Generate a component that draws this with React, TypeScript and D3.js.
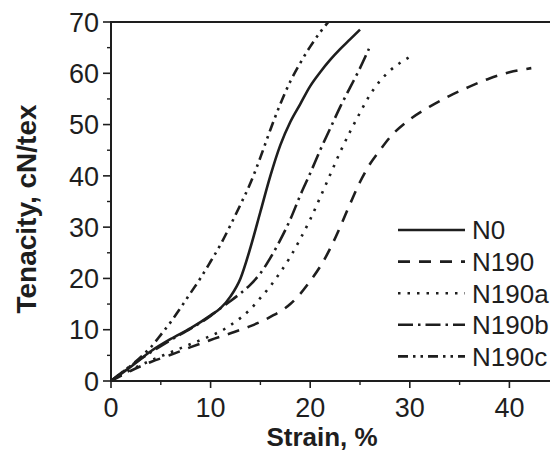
import React from "react";
import * as d3 from "d3";

const seriesNames = ["N0", "N190", "N190a", "N190b", "N190c"];

const n0: [number, number][] = [
  [0, 0], [2, 2.8], [4, 5.8], [6, 8.2], [8, 10.3], [10, 12.8], [11, 14.2], [12, 16.5],
  [13, 20], [14, 26], [15, 33], [16, 40], [17, 46], [18, 50.5], [19, 54], [20, 57.5],
  [21, 60.2], [22, 62.6], [23, 64.7], [24, 66.6], [25, 68.5],
];
const n190: [number, number][] = [
  [0, 0], [2, 2], [4, 3.7], [6, 5.1], [8, 6.6], [10, 8], [12, 9.3], [14, 10.7],
  [16, 12.5], [18, 15], [19, 17], [20, 19.5], [21, 22.3], [22, 25.8], [23, 30],
  [24, 34.5], [25, 38.8], [26, 42.3], [27, 45], [28, 47.5], [30, 51], [32, 53.5],
  [34, 55.6], [36, 57.4], [38, 59], [40, 60.2], [42.2, 61],
];
const n190a: [number, number][] = [
  [0, 0], [2, 2.2], [4, 4], [6, 5.6], [8, 7.2], [10, 8.8], [11, 9.7], [12, 10.9],
  [13, 12.3], [14, 14], [15, 16.2], [16, 18.5], [17, 21.2], [18, 24.2], [19, 27.7],
  [20, 31.5], [21, 35.8], [22, 40.2], [23, 44.6], [24, 48.6], [25, 52.3], [26, 55.8],
  [27, 58.5], [28, 60.5], [29, 62], [30, 63.2],
];
const n190b: [number, number][] = [
  [0, 0], [2, 3], [4, 5.6], [6, 8], [8, 10.2], [10, 12.7], [11, 14.2], [12, 15.6],
  [13, 17.1], [14, 18.8], [15, 21], [16, 24], [17, 27.5], [18, 31.5], [19, 36.2],
  [20, 40.5], [21, 45], [22, 49.2], [23, 53.4], [24, 57.2], [25, 61], [25.9, 64.8],
];
const n190c: [number, number][] = [
  [0, 0], [1, 1.5], [2, 3], [3, 4.7], [4, 6.6], [5, 9], [6, 11.5], [7, 14.3],
  [8, 17.2], [9, 20.1], [10, 23.3], [11, 26.6], [12, 30.4], [13, 34.4], [14, 38.6],
  [15, 43.6], [16, 49], [17, 54], [18, 58.4], [19, 62], [20, 65.2], [21, 68], [21.9, 70.2],
];
const seriesData = [n0, n190, n190a, n190b, n190c];
const dashes = ["", "12,9", "2.5,7", "15,5,2.5,5", "10,5,2.5,5,2.5,5"];

const xTicks = [0, 10, 20, 30, 40];
const xMinorTicks = [5, 15, 25, 35];
const yTicks = [0, 10, 20, 30, 40, 50, 60, 70];
const yMinorTicks = [5, 15, 25, 35, 45, 55, 65];

const W = 550;
const H = 453;
const left = 111;
const top = 22;
const bottom = 381;
const ink = "#1e1e1e";

export default function App() {
  const x = d3.scaleLinear().domain([0, 45]).range([left, left + 4.5 * 99.6]);
  const y = d3.scaleLinear().domain([0, 70]).range([bottom, top]);
  const line = d3
    .line<[number, number]>()
    .x((d) => x(d[0]))
    .y((d) => y(d[1]))
    .curve(d3.curveMonotoneX);

  const legX1 = 398;
  const legX2 = 465;
  const legY0 = 230;
  const legDy = 31.6;
  const font = "'Liberation Sans', Arial, Helvetica, sans-serif";

  return (
    <svg
      width={W}
      height={H}
      style={{ position: "absolute", left: 0, top: 0, background: "#fff" }}
      fontFamily={font}
    >
      <defs>
        <clipPath id="plot">
          <rect x={left} y={top} width={W - left} height={bottom - top} />
        </clipPath>
      </defs>
      <g clipPath="url(#plot)">
        {seriesData.map((s, i) => (
          <path
            key={seriesNames[i]}
            d={line(s) || ""}
            fill="none"
            stroke={ink}
            strokeWidth={2.6}
            strokeDasharray={dashes[i] || undefined}
            strokeLinecap="butt"
          />
        ))}
      </g>
      <line x1={left} x2={W} y1={top} y2={top} stroke={ink} strokeWidth={2} />
      <line x1={left} x2={left} y1={top - 1} y2={bottom + 1} stroke={ink} strokeWidth={2} />
      <line x1={left - 1} x2={W} y1={bottom} y2={bottom} stroke={ink} strokeWidth={2} />
      {yTicks.map((t) => (
        <g key={"y" + t}>
          <line x1={left - 8} x2={left} y1={y(t)} y2={y(t)} stroke={ink} strokeWidth={1.6} />
          <text x={99} y={y(t)} dy="0.36em" textAnchor="end" fontSize={27} fill={ink}>
            {t}
          </text>
        </g>
      ))}
      {yMinorTicks.map((t) => (
        <line key={"ym" + t} x1={left - 4} x2={left} y1={y(t)} y2={y(t)} stroke={ink} strokeWidth={1.4} />
      ))}
      {xTicks.map((t) => (
        <g key={"x" + t}>
          <line x1={x(t)} x2={x(t)} y1={bottom} y2={bottom + 7} stroke={ink} strokeWidth={1.6} />
          <text x={x(t)} y={417} textAnchor="middle" fontSize={27} fill={ink}>
            {t}
          </text>
        </g>
      ))}
      {xMinorTicks.map((t) => (
        <line key={"xm" + t} x1={x(t)} x2={x(t)} y1={bottom} y2={bottom + 4} stroke={ink} strokeWidth={1.4} />
      ))}
      <text x={322} y={446} textAnchor="middle" fontSize={26} fontWeight="bold" fill={ink}>
        Strain, %
      </text>
      <text
        transform={`translate(36,209) rotate(-90)`}
        textAnchor="middle"
        fontSize={28}
        fontWeight="bold"
        fill={ink}
      >
        Tenacity, cN/tex
      </text>
      {seriesNames.map((n, i) => (
        <g key={"leg" + n}>
          <line
            x1={legX1}
            x2={legX2}
            y1={legY0 + i * legDy}
            y2={legY0 + i * legDy}
            stroke={ink}
            strokeWidth={2.6}
            strokeDasharray={dashes[i] || undefined}
          />
          <text x={472} y={legY0 + i * legDy} dy="0.36em" fontSize={26} fill={ink}>
            {n}
          </text>
        </g>
      ))}
    </svg>
  );
}
